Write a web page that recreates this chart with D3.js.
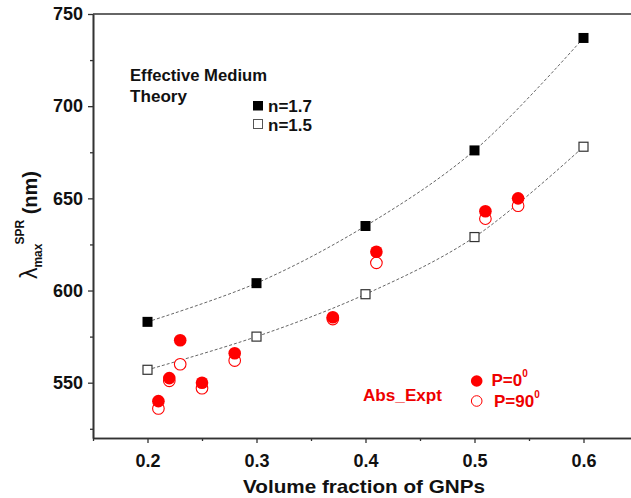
<!DOCTYPE html>
<html><head><meta charset="utf-8">
<script src="https://cdn.jsdelivr.net/npm/d3@7"></script>
<style>body{margin:0;background:#fff}svg{display:block}text{font-family:"Liberation Sans",Arial,sans-serif;font-weight:bold}</style>
</head><body>
<svg id="c" width="631" height="498"></svg>
<script>
const theoryX = [0.2, 0.3, 0.4, 0.5, 0.6];
const n17 = [583, 604, 635, 676, 737];
const n15 = [557, 575, 598, 629, 678];
const exptX = [0.21, 0.22, 0.23, 0.25, 0.28, 0.37, 0.41, 0.51, 0.54];
const p0 = [540, 552.5, 573, 550, 566, 585.5, 621, 643, 650];
const p90 = [536, 551, 560, 547, 562, 584.5, 615, 639, 646];
const xTicks = [0.2, 0.3, 0.4, 0.5, 0.6];
const yTicks = [550, 600, 650, 700, 750];

const svg = d3.select("#c");
const x = d3.scaleLinear().domain([0.15, 0.65]).range([93, 638]);
const y = d3.scaleLinear().domain([520, 750]).range([438, 14]);
const axisCol = "#333";

// axes
const gx = svg.append("g").attr("transform", "translate(0,438)")
  .call(d3.axisBottom(x).tickValues(xTicks).tickFormat(d3.format(".1f")).tickSize(5).tickSizeOuter(0));
const gxm = svg.append("g").attr("transform", "translate(0,438)")
  .call(d3.axisBottom(x).tickValues([0.15,0.25,0.35,0.45,0.55]).tickFormat("").tickSize(3).tickSizeOuter(0));
const gy = svg.append("g").attr("transform", "translate(93,0)")
  .call(d3.axisLeft(y).tickValues(yTicks).tickSize(5).tickSizeOuter(0));
const gym = svg.append("g").attr("transform", "translate(93,0)")
  .call(d3.axisLeft(y).tickValues([525,575,625,675,725]).tickFormat("").tickSize(3).tickSizeOuter(0));
[gx,gxm,gy,gym].forEach(g=>{
  g.select(".domain").attr("stroke", axisCol).attr("stroke-width", 1.6);
  g.selectAll(".tick line").attr("stroke", axisCol).attr("stroke-width", 1.3);
  g.selectAll(".tick text").attr("fill","#111").style("font-size","18px").style("font-family","'Liberation Sans',Arial,sans-serif").style("font-weight","bold");
});
gx.selectAll(".tick text").attr("dy","1.15em");
gy.selectAll(".tick text").attr("dx","-2");
// top frame line
svg.append("line").attr("x1",x(0.15)).attr("x2",x(0.65)).attr("y1",y(750)).attr("y2",y(750)).attr("stroke",axisCol).attr("stroke-width",1.6);

// dashed theory curves
const line = d3.line().x(d=>x(d[0])).y(d=>y(d[1])).curve(d3.curveCatmullRom);
[n17, n15].forEach(s=>{
  svg.append("path").attr("d", line(theoryX.map((v,i)=>[v,s[i]])))
    .attr("fill","none").attr("stroke","#666").attr("stroke-width",1).attr("stroke-dasharray","3,2");
});

// squares
const sq = 10;
svg.selectAll(".s17").data(theoryX.map((v,i)=>[v,n17[i]])).join("rect")
  .attr("x",d=>x(d[0])-sq/2).attr("y",d=>y(d[1])-sq/2).attr("width",sq).attr("height",sq).attr("fill","#000");
svg.selectAll(".s15").data(theoryX.map((v,i)=>[v,n15[i]])).join("rect")
  .attr("x",d=>x(d[0])-sq/2+0.5).attr("y",d=>y(d[1])-sq/2+0.5).attr("width",sq-1).attr("height",sq-1).attr("fill","#fff").attr("stroke","#333").attr("stroke-width",1.2);

// circles
const red = "#f00";
svg.selectAll(".c90").data(exptX.map((v,i)=>[v,p90[i]])).join("circle")
  .attr("cx",d=>x(d[0])).attr("cy",d=>y(d[1])).attr("r",5.8).attr("fill","#fff").attr("stroke",red).attr("stroke-width",1.1);
svg.selectAll(".c0").data(exptX.map((v,i)=>[v,p0[i]])).join("circle")
  .attr("cx",d=>x(d[0])).attr("cy",d=>y(d[1])).attr("r",6.3).attr("fill",red);

// legends
function txt(xp, yp, s, w, col, size){
  const t = svg.append("text").attr("x",xp).attr("y",yp).style("font-size",(size||17)+"px").attr("fill",col||"#111").text(s);
  if (w) t.attr("textLength",w).attr("lengthAdjust","spacingAndGlyphs");
  return t;
}
txt(130, 81, "Effective Medium", 137);
txt(130, 101.5, "Theory", 57);
svg.append("rect").attr("x",253).attr("y",101).attr("width",10).attr("height",9.5).attr("fill","#000");
svg.append("rect").attr("x",253.5).attr("y",119.5).attr("width",9).attr("height",9).attr("fill","#fff").attr("stroke","#555");
txt(268, 111.7, "n=1.7", 44);
txt(268, 130.5, "n=1.5", 44);

txt(363, 400.5, "Abs_Expt", 79, "#e00");
svg.append("circle").attr("cx",476.7).attr("cy",381).attr("r",5.8).attr("fill",red);
svg.append("circle").attr("cx",476.7).attr("cy",401).attr("r",5.3).attr("fill","#fff").attr("stroke",red).attr("stroke-width",1);
const t1 = svg.append("text").attr("x",491.5).attr("y",386).style("font-size","17px").attr("fill","#e00");
t1.append("tspan").text("P=0");
t1.append("tspan").attr("dy",-9).style("font-size","10px").text("0");
const t2 = svg.append("text").attr("x",494).attr("y",407).style("font-size","17px").attr("fill","#e00");
t2.append("tspan").text("P=90");
t2.append("tspan").attr("dy",-9).style("font-size","10px").text("0");

// axis titles
svg.append("text").attr("x",243).attr("y",493).style("font-size","18.5px").attr("fill","#111")
  .attr("textLength",242).attr("lengthAdjust","spacingAndGlyphs").text("Volume fraction of GNPs");
const yl = svg.append("text").attr("transform","translate(37,225) rotate(-90)").attr("text-anchor","middle").attr("fill","#111").style("font-size","20px");
yl.append("tspan").style("font-weight","normal").style("font-size","23px").text("λ");
yl.append("tspan").attr("dy",5).style("font-size","12px").text("max");
yl.append("tspan").attr("dy",-18).attr("dx",-1).style("font-size","12px").text("SPR");
yl.append("tspan").attr("dy",13).style("font-size","20px").text(" (nm)");
</script>
</body></html>
